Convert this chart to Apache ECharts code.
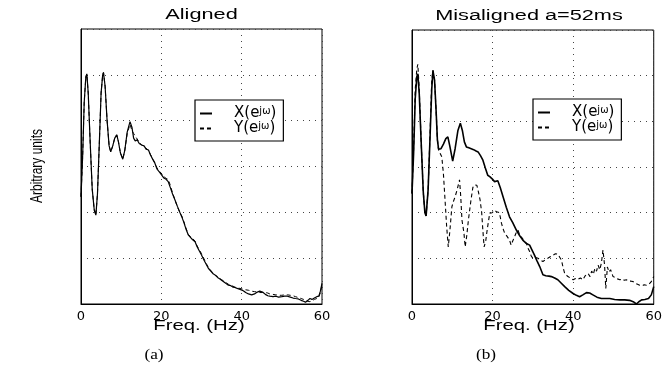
<!DOCTYPE html>
<html>
<head>
<meta charset="utf-8">
<script src="https://cdn.jsdelivr.net/npm/echarts@6/dist/echarts.min.js"></script>
<style>html,body{margin:0;padding:0;background:#fff}#c{width:665px;height:375px}</style>
</head>
<body>
<div id="c"></div>
<script>
// ---- data ----
const xTicks = [0, 20, 40, 60];

// Panel (a): Aligned
const alignedFreq = [0,0.4,0.8,1.2,1.45,1.8,2.3,2.8,3.3,3.7,4.1,4.6,5.0,5.4,5.6,6.0,6.5,7.0,7.4,7.9,8.4,8.9,9.3,9.8,10.4,10.9,11.5,12.2,12.7,13.1,13.5,14.0,14.5,15.1,15.7,16.2,16.8,17.3,17.9,18.4,18.9,19.5,20.1,20.6,21.2,21.7,22.2,22.8,23.4,24.0,24.6,25.1,25.6,26.2,26.7,27.3,27.8,28.4,28.9,29.5,30.0,30.6,31.2,31.7,32.3,32.9,33.4,34.0,34.5,35.0,35.6,36.2,36.7,37.3,37.8,38.3,38.9,39.6,40.4,41.0,41.7,42.5,43.2,43.9,44.5,45.2,45.9,46.5,47.0,47.8,48.5,49.2,50.0,50.7,51.4,52.1,52.8,53.4,54.1,54.8,55.4,55.9,56.5,57.0,57.5,58.1,58.7,59.2,59.6,60.0];
const alignedX = [2.34,3.2,4.4,4.95,5.02,4.6,3.5,2.5,2.05,1.94,2.4,3.6,4.6,5.0,5.05,4.75,4.0,3.45,3.32,3.45,3.62,3.69,3.55,3.3,3.16,3.35,3.75,3.98,3.85,3.62,3.56,3.58,3.5,3.47,3.45,3.38,3.36,3.25,3.15,3.07,2.95,2.88,2.81,2.75,2.72,2.67,2.55,2.4,2.27,2.13,2.0,1.9,1.78,1.62,1.51,1.45,1.4,1.36,1.25,1.15,1.07,0.96,0.86,0.78,0.72,0.66,0.63,0.58,0.55,0.52,0.48,0.44,0.41,0.4,0.37,0.36,0.34,0.32,0.29,0.25,0.22,0.2,0.22,0.26,0.28,0.26,0.21,0.18,0.17,0.16,0.17,0.15,0.16,0.17,0.17,0.15,0.13,0.12,0.11,0.08,0.06,0.04,0.08,0.12,0.1,0.13,0.16,0.17,0.28,0.45];
const alignedY = [2.34,3.2,4.4,4.95,5.02,4.6,3.5,2.5,2.05,1.94,2.4,3.6,4.6,5.0,5.05,4.75,4.0,3.45,3.32,3.45,3.62,3.69,3.55,3.3,3.16,3.35,3.72,3.92,3.78,3.72,3.66,3.6,3.52,3.47,3.44,3.4,3.35,3.26,3.16,3.08,2.97,2.9,2.84,2.78,2.74,2.72,2.6,2.42,2.27,2.12,2.0,1.92,1.8,1.64,1.52,1.46,1.43,1.37,1.27,1.17,1.1,0.99,0.88,0.8,0.73,0.67,0.63,0.6,0.56,0.53,0.5,0.46,0.43,0.41,0.39,0.37,0.35,0.34,0.32,0.31,0.3,0.28,0.27,0.26,0.25,0.25,0.25,0.24,0.22,0.21,0.2,0.19,0.19,0.2,0.2,0.19,0.18,0.16,0.14,0.12,0.1,0.07,0.06,0.05,0.07,0.1,0.12,0.15,0.25,0.42];

// Panel (b): Misaligned a=52ms
const misFreqX = [0,0.4,0.8,1.2,1.45,1.8,2.3,2.8,3.2,3.5,4.0,4.5,4.9,5.2,5.6,6.0,6.3,6.6,7.2,7.8,8.4,8.9,9.4,10.1,10.7,11.4,12.0,12.5,13.0,13.5,14.1,14.7,15.3,15.9,16.4,17.0,17.6,18.2,18.8,19.3,19.9,20.5,21.3,21.9,22.6,23.4,24.2,25.0,25.9,26.7,27.5,28.3,29.2,29.8,30.4,31.0,31.7,32.5,33.2,34.0,34.6,35.4,36.2,37.0,37.9,38.9,40.0,40.8,41.6,42.4,43.3,44.1,44.9,45.9,47.0,48.0,49.1,50.3,51.6,52.8,54.0,54.9,55.7,56.3,57.0,57.8,58.7,59.4,60.0];
const misX = [2.42,3.3,4.5,4.98,5.04,4.6,3.5,2.45,2.0,1.93,2.5,3.7,4.7,5.11,4.9,4.2,3.6,3.39,3.4,3.5,3.62,3.66,3.45,3.13,3.4,3.8,3.96,3.8,3.55,3.44,3.42,3.4,3.38,3.35,3.33,3.25,3.15,2.98,2.82,2.79,2.74,2.68,2.7,2.55,2.35,2.12,1.91,1.78,1.62,1.5,1.4,1.33,1.29,1.18,1.07,0.95,0.82,0.64,0.62,0.61,0.6,0.57,0.53,0.46,0.38,0.3,0.23,0.19,0.16,0.2,0.25,0.24,0.2,0.15,0.12,0.12,0.12,0.1,0.09,0.09,0.08,0.05,0.0,0.05,0.09,0.1,0.12,0.2,0.38];
const misFreqY = [0,0.4,0.8,1.2,1.45,1.8,2.3,2.8,3.2,3.5,4.0,4.5,4.9,5.2,5.6,6.0,6.3,6.6,7.0,7.4,7.8,8.2,8.6,9.0,9.4,9.9,10.3,10.7,11.2,11.8,12.1,12.4,12.9,13.2,13.6,14.0,14.6,15.1,15.5,16.1,16.5,16.9,17.3,17.6,17.9,18.3,18.7,19.3,19.9,20.4,21.0,21.7,22.2,22.6,23.0,23.6,24.2,24.6,25.0,25.4,25.8,26.3,26.7,27.1,27.7,28.4,28.8,29.2,29.6,30.0,30.6,31.3,31.9,32.5,33.1,33.7,34.4,35.0,35.6,36.2,36.7,37.1,37.5,37.9,38.3,38.7,39.3,40.0,40.6,41.2,41.8,42.4,43.0,43.4,43.7,44.2,44.6,45.0,45.4,45.8,46.2,46.6,47.0,47.4,47.8,48.1,48.5,48.9,49.3,49.9,50.5,51.0,51.6,52.2,52.7,53.2,53.8,54.4,54.9,55.5,56.0,56.5,57.1,57.6,58.2,58.8,59.4,60.0];
const misY = [2.42,3.4,4.7,5.15,5.25,4.7,3.5,2.45,2.0,1.93,2.5,3.8,4.9,5.12,4.9,4.2,3.6,3.37,3.35,3.22,2.85,2.28,1.7,1.25,1.6,2.13,2.25,2.35,2.5,2.72,2.35,1.84,1.55,1.25,1.5,1.84,2.25,2.55,2.61,2.6,2.45,2.28,2.0,1.6,1.25,1.38,1.65,1.99,2.0,2.05,2.02,2.0,1.77,1.65,1.55,1.48,1.4,1.29,1.38,1.46,1.55,1.62,1.52,1.47,1.4,1.33,1.22,1.15,1.05,1.0,1.02,1.0,0.96,0.93,0.97,1.0,1.04,1.07,1.1,1.09,1.02,0.96,0.8,0.67,0.63,0.6,0.57,0.53,0.56,0.54,0.57,0.53,0.62,0.58,0.67,0.6,0.72,0.65,0.78,0.72,0.85,0.75,0.89,1.18,0.85,0.34,0.81,0.7,0.75,0.6,0.58,0.55,0.53,0.55,0.52,0.53,0.5,0.5,0.49,0.45,0.43,0.41,0.4,0.42,0.41,0.43,0.49,0.6];

// ---- chart ----
const pair = (fs, vs) => fs.map((f, i) => [f, vs[i]]);
const AX = 'DejaVu Sans';

function xAxis(gi) {
  return {
    type: 'value', gridIndex: gi, min: 0, max: 60, interval: 20,
    axisLine: { show: true, lineStyle: { color: '#000', width: 1 } },
    axisTick: { show: false },
    axisLabel: { color: '#000', fontFamily: AX, fontSize: 13, margin: 6,
      formatter: v => xTicks.includes(v) ? String(v) : '' },
    splitLine: { show: true, lineStyle: { color: '#444', type: [1, 5], width: 1 } }
  };
}
function yAxis(gi) {
  return {
    type: 'value', gridIndex: gi, min: 0, max: 6, interval: 1,
    axisLine: { show: true, lineStyle: { color: '#000', width: 1 } },
    axisTick: { show: false },
    axisLabel: { show: false },
    splitLine: { show: true, lineStyle: { color: '#444', type: [1, 5], width: 1 } }
  };
}
const legendRich = {
  p: { fontFamily: AX, fontSize: 15, color: '#000', lineHeight: 14, padding: [0, 0, 0, 17] },
  t: { fontFamily: AX, fontSize: 15, color: '#000', lineHeight: 14 },
  s: { fontFamily: AX, fontSize: 10, color: '#000', lineHeight: 9, verticalAlign: 'top' }
};
const legendFmt = name => '{p|' + name.charAt(0) + '(e}{s|jω}{t|)}';
function legend(left, top, names) {
  return {
    data: names, orient: 'vertical', left: left, top: top,
    padding: [6, 7, 5, 4], itemWidth: 12, itemHeight: 14, itemGap: 0,
    borderColor: '#000', borderWidth: 1.2, backgroundColor: '#fff',
    selectedMode: false, formatter: legendFmt,
    itemStyle: { color: 'rgba(0,0,0,0)', borderColor: 'rgba(0,0,0,0)', borderWidth: 0, opacity: 0 },
    lineStyle: { color: '#000' },
    textStyle: { rich: legendRich }
  };
}
function line(name, gi, data, width, dashed) {
  return {
    name: name, type: 'line', xAxisIndex: gi, yAxisIndex: gi, data: data,
    showSymbol: false, symbol: 'none', animation: false, z: dashed ? 3 : 2,
    color: '#000', itemStyle: { color: '#000' },
    lineStyle: { color: '#000', width: width, type: dashed ? [4, 3] : 'solid' }
  };
}
function txt(text, x, y, font, sx, sy, rot) {
  return { type: 'text', x: x, y: y, scaleX: sx || 1, scaleY: sy || 1, rotation: rot || 0,
    style: { text: text, font: font, fill: '#000', textAlign: 'center', textVerticalAlign: 'middle' } };
}

const chart = echarts.init(document.getElementById('c'), null, { renderer: 'canvas' });
chart.setOption({
  animation: false,
  backgroundColor: '#fff',
  grid: [
    { left: 81, right: 343, top: 29, bottom: 71, show: true, borderColor: '#000', borderWidth: 1, backgroundColor: 'transparent' },
    { left: 412, right: 11, top: 30, bottom: 71, show: true, borderColor: '#000', borderWidth: 1, backgroundColor: 'transparent' }
  ],
  xAxis: [xAxis(0), xAxis(1)],
  yAxis: [yAxis(0), yAxis(1)],
  legend: [
    legend(195, 100, ['X(e^jω) aligned', 'Y(e^jω) aligned']),
    legend(533, 99, ['X(e^jω) misaligned', 'Y(e^jω) misaligned'])
  ],
  series: [
    line('X(e^jω) aligned', 0, pair(alignedFreq, alignedX), 1.2, false),
    line('Y(e^jω) aligned', 0, pair(alignedFreq, alignedY), 1, true),
    line('X(e^jω) misaligned', 1, pair(misFreqX, misX), 1.6, false),
    line('Y(e^jω) misaligned', 1, pair(misFreqY, misY), 1.1, true)
  ],
  graphic: [
    txt('Aligned', 201.5, 15.5, '14px "Liberation Sans"', 1.55),
    txt('Misaligned a=52ms', 529, 16.5, '14px "Liberation Sans"', 1.55),
    txt('Freq. (Hz)', 199, 326, '14px "Liberation Sans"', 1.45),
    txt('Freq. (Hz)', 529, 326, '14px "Liberation Sans"', 1.45),
    txt('Arbitrary units', 38, 166, '12px "Liberation Sans"', 1, 1.3, Math.PI / 2),
    txt('(a)', 154, 355, '15px "Liberation Serif"', 1.15),
    txt('(b)', 486, 355, '15px "Liberation Serif"', 1.15)
  ]
});
</script>
</body>
</html>
